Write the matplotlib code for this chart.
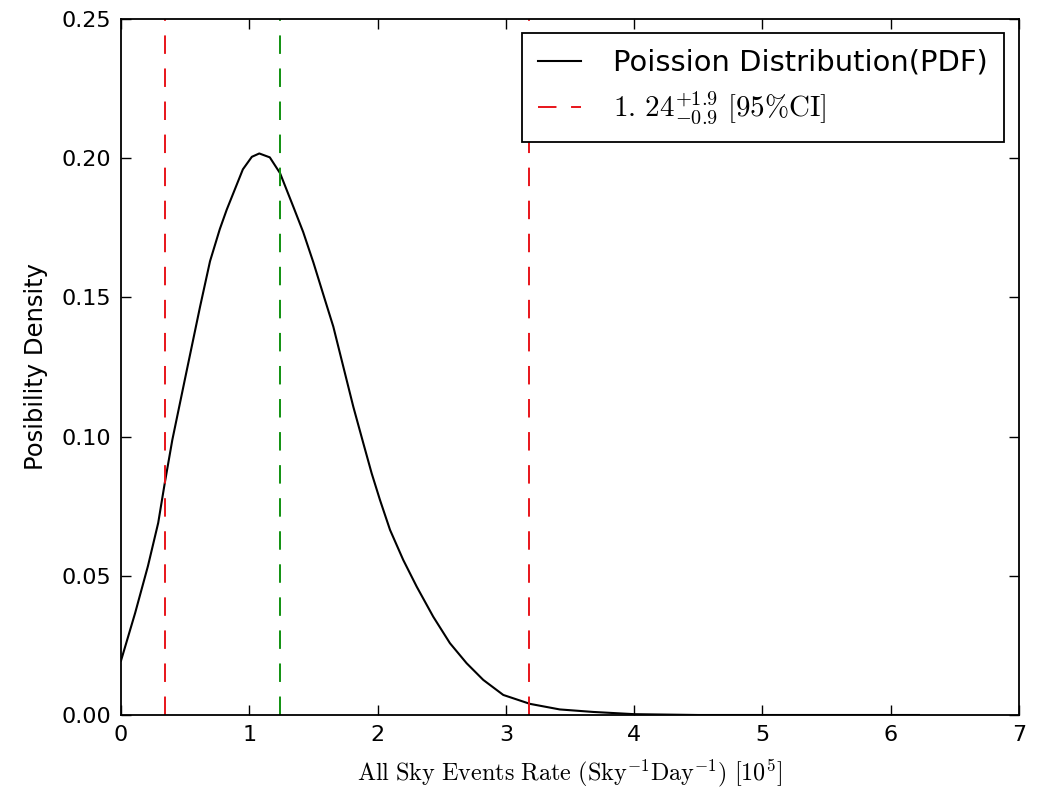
import matplotlib
matplotlib.use("Agg")
import matplotlib.pyplot as plt

# Curve values
rate = [0.0, 0.11, 0.21, 0.29, 0.34, 0.40, 0.50, 0.616, 0.694, 0.77, 0.824,
        0.95, 1.02, 1.078, 1.16, 1.24, 1.343, 1.42, 1.50, 1.59, 1.655, 1.733,
        1.811, 1.889, 1.954, 2.019, 2.097, 2.20, 2.305, 2.434, 2.564, 2.694,
        2.824, 2.98, 3.188, 3.42, 3.68, 4.0, 4.5, 6.22]
density = [0.0195, 0.0366, 0.0535, 0.069, 0.083, 0.0988, 0.121, 0.1466, 0.163,
           0.1745, 0.1815, 0.196, 0.2005, 0.2017, 0.2003, 0.1946, 0.1826,
           0.1735, 0.1625, 0.1491, 0.1395, 0.1251, 0.1107, 0.0976, 0.0868,
           0.0772, 0.0665, 0.0557, 0.0461, 0.0353, 0.0258, 0.0186, 0.0126,
           0.0072, 0.0040, 0.0020, 0.0011, 0.0003, 0.0, 0.0]

ci_low = 0.34
ci_mid = 1.24
ci_high = 3.18

xticks = [0, 1, 2, 3, 4, 5, 6, 7]
yticks = [0.00, 0.05, 0.10, 0.15, 0.20, 0.25]

plt.rcParams['mathtext.fontset'] = 'cm'
plt.rcParams['font.family'] = ['DejaVu Sans']

fig = plt.figure(figsize=(10.46, 7.92), dpi=100)
ax = fig.add_axes([121/1046, 1-715/792, (1019-121)/1046, (715-19)/792])

ax.plot(rate, density, color='black', lw=1.5, label='Poission Distribution(PDF)',
        solid_joinstyle='round')
dash = (9.5, 7.5)
ax.axvline(ci_low, color='#e8141a', lw=1.4, dashes=dash,
           label=r'$1.\,24^{+1.9}_{-0.9}\ [95\%\mathrm{CI}]$')
ax.axvline(ci_mid, color='#109010', lw=1.4, dashes=dash)
ax.axvline(ci_high, color='#e8141a', lw=1.4, dashes=dash)

ax.set_xlim(0, 7)
ax.set_ylim(0, 0.25)
ax.set_xticks(xticks)
ax.set_yticks(yticks)
ax.set_yticklabels(['%.2f' % v for v in yticks])
ax.tick_params(direction='in', top=True, right=True, length=7, width=1.0,
               labelsize=16, pad=7)
for s in ax.spines.values():
    s.set_linewidth(1.3)

ax.set_ylabel('Posibility Density', fontsize=17.5, labelpad=10)
ax.set_xlabel(r'$\mathrm{All\ Sky\ Events\ Rate\ (Sky^{-1}Day^{-1})\ [10^5]}$',
              fontsize=17.4, labelpad=9)

leg = ax.legend(loc='upper right', bbox_to_anchor=(1 - 15/898, 1 - 14/696),
                borderaxespad=0, fontsize=20.9, handlelength=1.5,
                handletextpad=1.1, labelspacing=0.45, fancybox=False,
                framealpha=1, borderpad=0.55)
leg.get_frame().set_edgecolor('black')
leg.get_frame().set_linewidth(1.3)

fig.savefig('out.png', dpi=100, facecolor='white')
